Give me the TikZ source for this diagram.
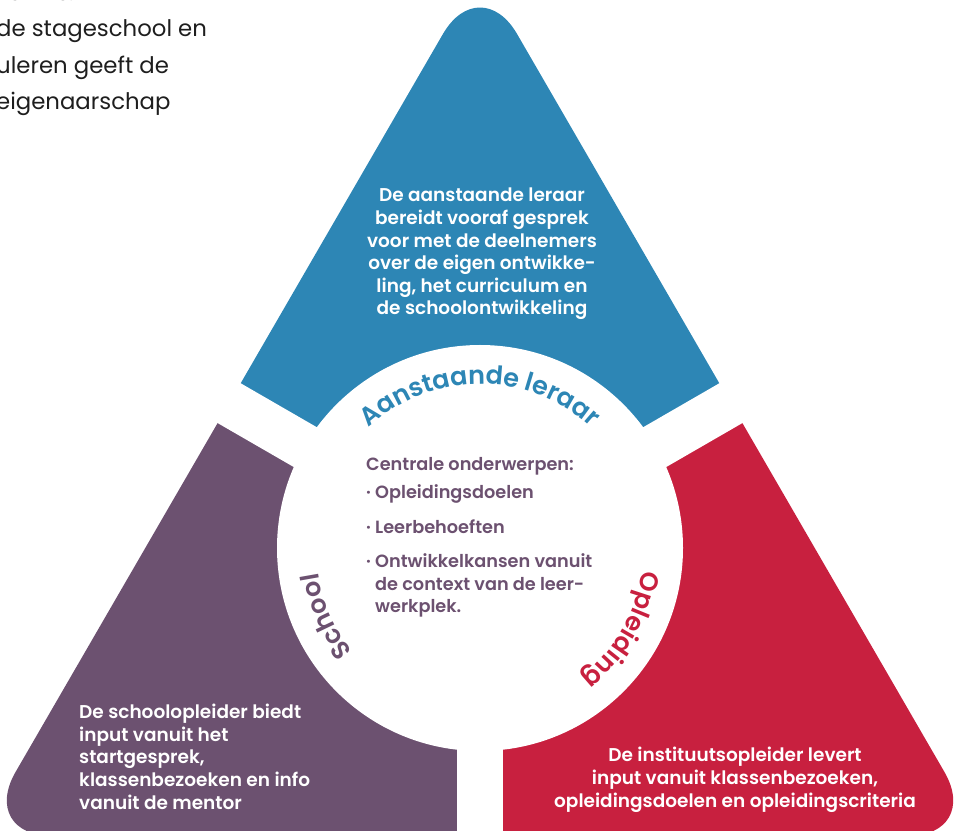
\documentclass[tikz,border=0pt]{standalone}
\usepackage{fontspec}
\setmainfont{Poppins}[BoldFont={* SemiBold}]
\usepackage{tikz}
\usetikzlibrary{decorations.text}

\definecolor{leraarblauw}{HTML}{2D86B5}
\definecolor{schoolpaars}{HTML}{6C5170}
\definecolor{opleidingrood}{HTML}{C8203F}
\definecolor{tekstgrijs}{HTML}{1E1E1E}

\newcommand{\stip}{\makebox[9pt][l]{\textperiodcentered}}
\newcommand{\inspring}{\hspace*{9pt}}
\newcommand{\boogfont}{\bfseries\fontsize{25.5}{25.5}\selectfont}

\begin{document}
\begin{tikzpicture}
  [
    x=1pt, y=1pt,
    Corner/.style={rounded corners=74pt},
    Gap/.style={draw=white, line width=46pt},
    Inside/.style={text=white, inner sep=0pt, font=\bfseries\fontsize{18.5}{22.6}\selectfont},
    Centre/.style={text=schoolpaars, inner sep=0pt, align=left, font=\bfseries\fontsize{17.7}{22.7}\selectfont},
    Intro/.style={text=tekstgrijs, inner sep=0pt, align=left, font=\fontsize{22.8}{36.5}\selectfont},
    Arch/.style={decorate, decoration={text along path, text align=center, text color=#1}}
  ]
  \useasboundingbox (0,0) rectangle (958,830);
  \clip (0,0) rectangle (958,830);
  % Shapes
  \begin{scope}[shift={(480,282)}]
    \begin{scope}
      \clip[Corner] (0,578) -- (501.5,-288) -- (-501.5,-288) -- cycle;
      \fill[leraarblauw] (0,0) -- (30:900) -- (90:900) -- (150:900) -- cycle;
      \fill[schoolpaars] (0,0) -- (150:900) -- (210:900) -- (270:900) -- cycle;
      \fill[opleidingrood] (0,0) -- (270:900) -- (330:900) -- (30:900) -- cycle;
    \end{scope}
    \fill[white] (0,0) circle[radius=203];
    \foreach \a in {30,150,270}
      \draw[Gap] (0,0) -- (\a:700);
    % Labels on the circle
    \path[Arch=leraarblauw, decoration={text={|\boogfont|Aanstaande leraar}}]
      (160:164) arc[start angle=160, end angle=20, radius=164];
    \path[Arch=schoolpaars, decoration={text={|\boogfont|School}}]
      (264:164) arc[start angle=264, end angle=144, radius=164];
    \path[Arch=opleidingrood, decoration={text={|\boogfont|Opleiding}}]
      (30:164) arc[start angle=30, end angle=-90, radius=164];
  \end{scope}
  % Nodes
  \node[Inside, align=center, anchor=base] (leraar) at (482, 515)
    {De aanstaande leraar\\bereidt vooraf gesprek\\voor met de deelnemers\\over de eigen ontwikke-\\ling, het curriculum en\\de schoolontwikkeling};
  \node[Inside, align=left, anchor=base west] (school) at (79, 21)
    {De schoolopleider biedt\\input vanuit het\\startgesprek,\\klassenbezoeken en info\\vanuit de mentor};
  \node[Inside, align=center, anchor=base] (opleiding) at (735, 23)
    {De instituutsopleider levert\\input vanuit klassenbezoeken,\\opleidingsdoelen en opleidingscriteria};
  \node[Centre, anchor=base west] (onderwerpen) at (366, 217)
    {Centrale onderwerpen:\\[4.5pt]
     \stip Opleidingsdoelen\\[12.5pt]
     \stip Leerbehoeften\\[11.5pt]
     \stip Ontwikkelkansen vanuit\\
     \inspring de context van de leer-\\
     \inspring werkplek.};
  \node[Intro, anchor=base west] (intro) at (-4, 720)
    {kennis.\\de stageschool en\\uleren geeft de\\eigenaarschap};
\end{tikzpicture}
\end{document}
